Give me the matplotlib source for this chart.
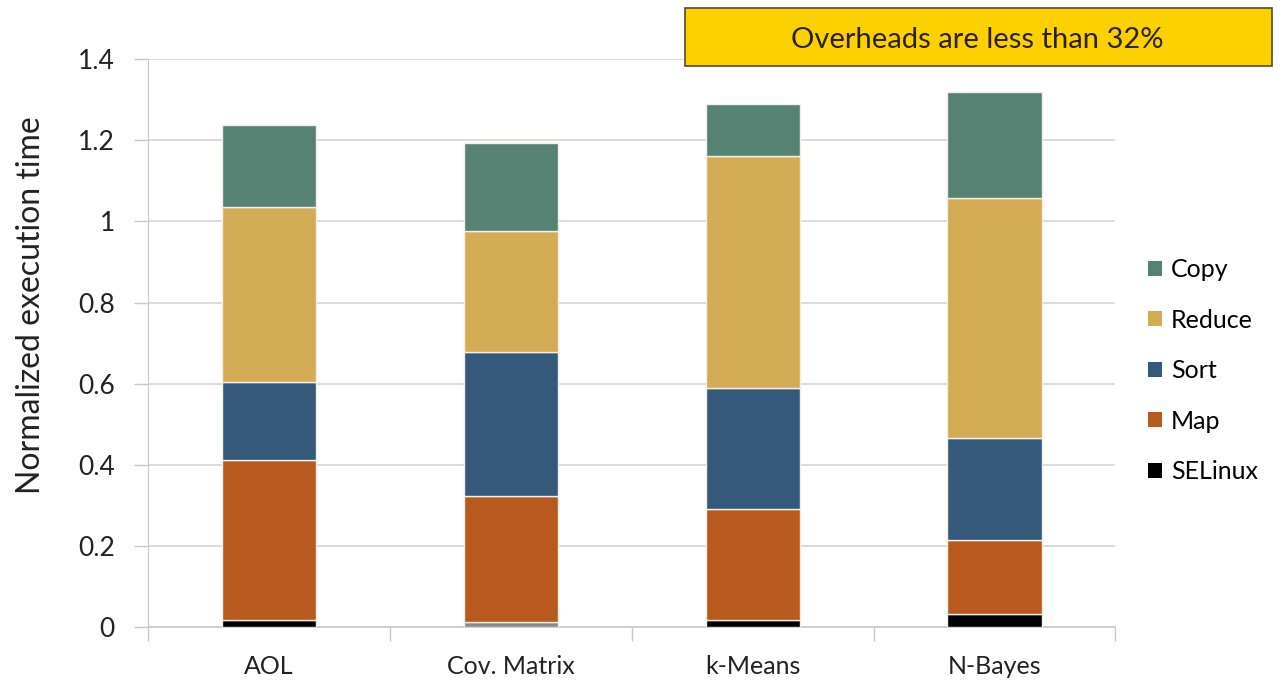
import matplotlib
matplotlib.use("Agg")
import matplotlib.pyplot as plt
import numpy as np
from matplotlib.patches import FancyBboxPatch, Patch

categories = ["AOL", "Cov. Matrix", "k-Means", "N-Bayes"]
selinux = [0.018, 0.013, 0.018, 0.032]
map_t = [0.394, 0.311, 0.272, 0.183]
sort_t = [0.192, 0.353, 0.299, 0.250]
reduce_t = [0.431, 0.300, 0.572, 0.594]
copy_t = [0.203, 0.216, 0.129, 0.260]
series_names = ["SELinux", "Map", "Sort", "Reduce", "Copy"]
yticks = [0, 0.2, 0.4, 0.6, 0.8, 1.0, 1.2, 1.4]
ytick_labels = ["0", "0.2", "0.4", "0.6", "0.8", "1", "1.2", "1.4"]
title_text = "Overheads are less than 32%"

colors = {"SELinux": "#000000", "Map": "#B85A1E", "Sort": "#35597B",
          "Reduce": "#D4AB55", "Copy": "#568274"}

plt.rcParams['font.family'] = ['Lato', 'DejaVu Sans']

fig = plt.figure(figsize=(12.88, 6.89), dpi=100)
ax = fig.add_axes([0.115, 0.09, 0.751, 0.824])

x = np.arange(len(categories))
width = 0.39
bottom = np.zeros(len(categories))
data = [selinux, map_t, sort_t, reduce_t, copy_t]
for name, vals in zip(series_names, data):
    col = colors[name]
    if name == "SELinux":
        col = ["#000000", "#8a8a8a", "#000000", "#000000"]
    ax.bar(x, vals, width, bottom=bottom, color=col, edgecolor="#f4efe6",
           linewidth=1.0, label=name, zorder=3)
    bottom += np.array(vals)

ax.set_ylim(0, 1.4)
ax.set_xlim(-0.5, 3.5)
ax.set_yticks(yticks)
ax.set_yticklabels(ytick_labels, fontsize=19, color="#222222")
ax.set_xticks(x)
ax.set_xticklabels(categories, fontsize=18, color="#222222")
ax.set_xticks([-0.5, 0.5, 1.5, 2.5, 3.5], minor=True)
ax.tick_params(axis="x", which="major", length=0, pad=20)
ax.tick_params(axis="x", which="minor", length=10, color="#c8c8c8", width=1)
ax.tick_params(axis="y", length=10, color="#c8c8c8", width=1, pad=14)
ax.yaxis.grid(True, color="#d6d6d6", linewidth=1.2, zorder=0)
for s in ["top", "right"]:
    ax.spines[s].set_visible(False)
ax.spines["left"].set_color("#c8c8c8")
ax.spines["bottom"].set_color("#c8c8c8")
ax.spines["bottom"].set_linewidth(1.2)
ax.set_ylabel("Normalized execution time", fontsize=23, color="#222222")
ax.yaxis.set_label_coords(-0.106, 0.567)

order = ["Copy", "Reduce", "Sort", "Map", "SELinux"]
leg_handles = [Patch(facecolor=colors[n], edgecolor="none") for n in order]
fig.legend(leg_handles, order, loc="center left", bbox_to_anchor=(0.874, 0.462),
           frameon=False, fontsize=18, handlelength=0.55, handleheight=0.55,
           labelspacing=1.1, handletextpad=0.35)

box = FancyBboxPatch((685 / 1288, 1 - 66 / 689), (1272 - 685) / 1288, (66 - 8) / 689,
                     boxstyle="square,pad=0", transform=fig.transFigure,
                     facecolor="#FDD000", edgecolor="#5a4a20", linewidth=1.2)
fig.patches.append(box)
fig.text(0.759, 1 - 40 / 689, title_text, ha="center", va="center",
         fontsize=21, color="#2a2110")

fig.savefig("out.png", dpi=100)
